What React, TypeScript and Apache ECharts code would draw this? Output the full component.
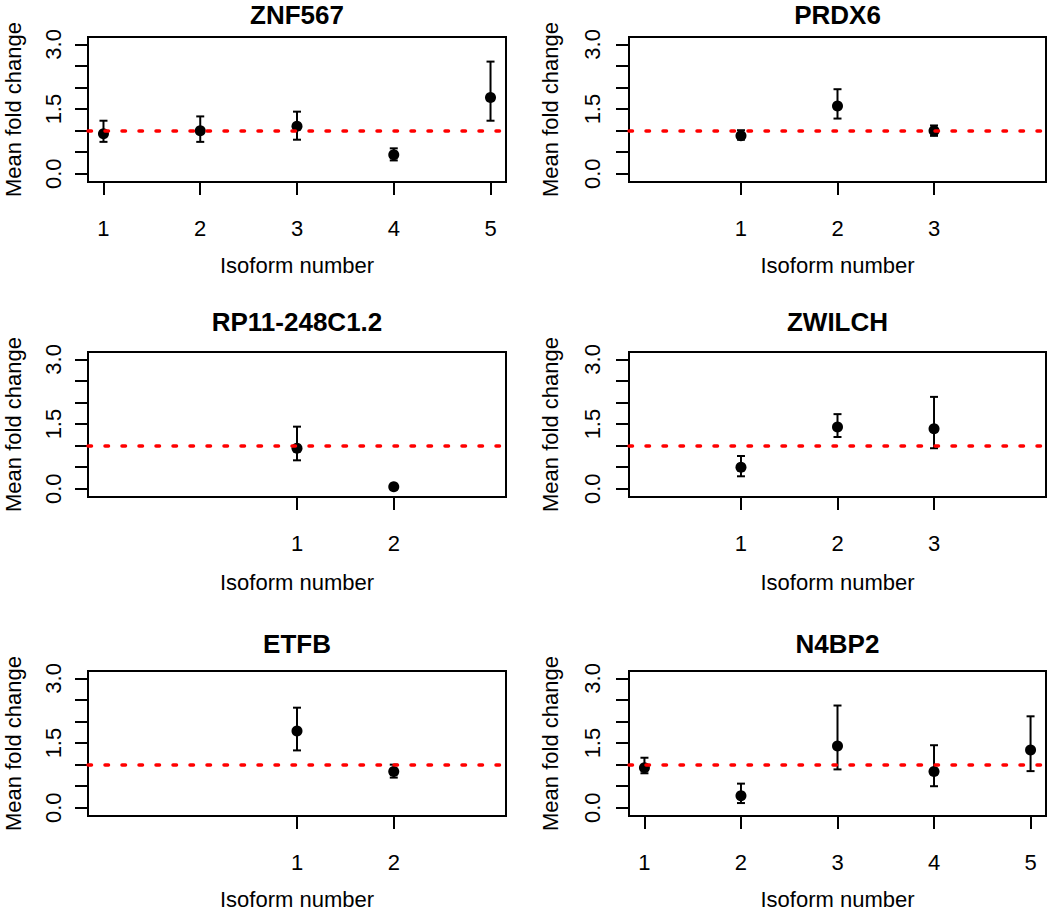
import React, { useEffect, useRef } from "react";
import * as echarts from "echarts";

// ---- Data ----
const geneNames = ["ZNF567", "PRDX6", "RP11-248C1.2", "ZWILCH", "ETFB", "N4BP2"];

const znf567Isoforms = [1, 2, 3, 4, 5];
const znf567Mean = [0.93, 1.0, 1.1, 0.44, 1.77];
const znf567Lower = [0.74, 0.74, 0.79, 0.31, 1.23];
const znf567Upper = [1.23, 1.33, 1.44, 0.59, 2.6];

const prdx6Isoforms = [1, 2, 3];
const prdx6Mean = [0.88, 1.57, 1.0];
const prdx6Lower = [0.79, 1.28, 0.88];
const prdx6Upper = [1.01, 1.96, 1.12];

const rp11Isoforms = [1, 2];
const rp11Mean = [0.94, 0.05];
const rp11Lower = [0.66, 0.03];
const rp11Upper = [1.44, 0.08];

const zwilchIsoforms = [1, 2, 3];
const zwilchMean = [0.5, 1.43, 1.39];
const zwilchLower = [0.29, 1.2, 0.94];
const zwilchUpper = [0.76, 1.73, 2.13];

const etfbIsoforms = [1, 2];
const etfbMean = [1.78, 0.84];
const etfbLower = [1.33, 0.7];
const etfbUpper = [2.32, 1.0];

const n4bp2Isoforms = [1, 2, 3, 4, 5];
const n4bp2Mean = [0.93, 0.28, 1.43, 0.84, 1.34];
const n4bp2Lower = [0.8, 0.11, 0.89, 0.5, 0.85];
const n4bp2Upper = [1.16, 0.56, 2.37, 1.45, 2.12];

const yTickValues = [0, 0.5, 1, 1.5, 2, 2.5, 3];
const yLabelValues = [0, 1.5, 3];
const referenceLine = 1.0;

const yAxisTitle = "Mean fold change";
const xAxisTitle = "Isoform number";

// ---- Layout ----
const FONT = '"Liberation Sans", Arial, Helvetica, sans-serif';
const colLeft = [88, 629];
const colWidth = [418, 417];
const colNameGap = [64, 68];
const colLabelMargin = [24, 26];
const rowTop = [37, 352, 671];
const plotHeight = 145;
const titleTop = [3, 310, 632];
const xNameGap = [72, 74, 72];
const yMin = -0.19;
const yMax = 3.17;

const panels = [
  { iso: znf567Isoforms, mean: znf567Mean, lo: znf567Lower, hi: znf567Upper, xMin: 0.84, xMax: 5.16 },
  { iso: prdx6Isoforms, mean: prdx6Mean, lo: prdx6Lower, hi: prdx6Upper, xMin: -0.16, xMax: 4.16 },
  { iso: rp11Isoforms, mean: rp11Mean, lo: rp11Lower, hi: rp11Upper, xMin: -1.16, xMax: 3.16 },
  { iso: zwilchIsoforms, mean: zwilchMean, lo: zwilchLower, hi: zwilchUpper, xMin: -0.16, xMax: 4.16 },
  { iso: etfbIsoforms, mean: etfbMean, lo: etfbLower, hi: etfbUpper, xMin: -1.16, xMax: 3.16 },
  { iso: n4bp2Isoforms, mean: n4bp2Mean, lo: n4bp2Lower, hi: n4bp2Upper, xMin: 0.84, xMax: 5.16 },
];

function buildOption() {
  const grids: any[] = [];
  const xAxes: any[] = [];
  const yAxes: any[] = [];
  const titles: any[] = [];
  const series: any[] = [];

  panels.forEach((p, i) => {
    const row = Math.floor(i / 2);
    const col = i % 2;
    const left = colLeft[col];
    const width = colWidth[col];
    const top = rowTop[row];

    grids.push({
      left,
      top,
      width,
      height: plotHeight,
      show: true,
      borderColor: "#000",
      borderWidth: 2,
      backgroundColor: "transparent",
      containLabel: false,
      outerBoundsMode: "none",
    });

    titles.push({
      text: geneNames[i],
      left: left + width / 2,
      top: titleTop[row],
      textAlign: "center",
      padding: 0,
      textStyle: { fontFamily: FONT, fontSize: 26, lineHeight: 24, fontWeight: "bold", color: "#000" },
    });

    xAxes.push({
      type: "value",
      gridIndex: i,
      min: p.xMin,
      max: p.xMax,
      position: "bottom",
      name: xAxisTitle,
      nameLocation: "middle",
      nameGap: xNameGap[row],
      nameMoveOverlap: false,
      nameTextStyle: { fontFamily: FONT, fontSize: 22, color: "#000" },
      axisLine: { show: false, onZero: false },
      splitLine: { show: false },
      axisTick: {
        show: true,
        inside: false,
        length: 13,
        customValues: p.iso,
        lineStyle: { color: "#000", width: 2 },
      },
      axisLabel: {
        show: true,
        margin: 35,
        customValues: p.iso,
        fontFamily: FONT,
        fontSize: 22,
        color: "#000",
        formatter: (v: number) => String(Math.round(v)),
      },
    });

    yAxes.push({
      type: "value",
      gridIndex: i,
      min: yMin,
      max: yMax,
      position: "left",
      name: yAxisTitle,
      nameLocation: "middle",
      nameRotate: 90,
      nameGap: colNameGap[col],
      nameMoveOverlap: false,
      nameTextStyle: { fontFamily: FONT, fontSize: 22, color: "#000" },
      axisLine: { show: false, onZero: false },
      splitLine: { show: false },
      axisTick: {
        show: true,
        inside: false,
        length: 13,
        customValues: yTickValues,
        lineStyle: { color: "#000", width: 2 },
      },
      axisLabel: {
        show: true,
        rotate: 90,
        margin: colLabelMargin[col],
        customValues: yLabelValues,
        fontFamily: FONT,
        fontSize: 22,
        color: "#000",
        formatter: (v: number) => v.toFixed(1),
      },
    });

    series.push({
      type: "custom",
      name: geneNames[i] + " error",
      xAxisIndex: i,
      yAxisIndex: i,
      z: 3,
      silent: true,
      encode: { x: 0, y: [1, 2] },
      data: p.iso.map((x, k) => [x, p.lo[k], p.hi[k]]),
      renderItem: (params: any, api: any) => {
        const x = api.value(0);
        const lo = api.value(1);
        const hi = api.value(2);
        const pt = api.coord([x, hi]);
        const pb = api.coord([x, lo]);
        const w = 4;
        const style = { stroke: "#000", lineWidth: 2, fill: null };
        return {
          type: "group",
          children: [
            { type: "line", shape: { x1: pt[0], y1: pt[1], x2: pb[0], y2: pb[1] }, style },
            { type: "line", shape: { x1: pt[0] - w, y1: pt[1], x2: pt[0] + w, y2: pt[1] }, style },
            { type: "line", shape: { x1: pb[0] - w, y1: pb[1], x2: pb[0] + w, y2: pb[1] }, style },
          ],
        };
      },
    });

    series.push({
      type: "scatter",
      name: geneNames[i],
      xAxisIndex: i,
      yAxisIndex: i,
      z: 4,
      symbol: "circle",
      symbolSize: 11,
      itemStyle: { color: "#000", opacity: 1 },
      data: p.iso.map((x, k) => [x, p.mean[k]]),
      markLine: {
        silent: true,
        z: 6,
        symbol: ["none", "none"],
        label: { show: false },
        lineStyle: { color: "#ff0000", width: 3.5, type: [3.5, 13.5], cap: "round", opacity: 1 },
        data: [{ yAxis: referenceLine }],
      },
    });
  });

  return {
    animation: false,
    backgroundColor: "#fff",
    textStyle: { fontFamily: FONT },
    title: titles,
    grid: grids,
    xAxis: xAxes,
    yAxis: yAxes,
    series,
  };
}

export default function App() {
  const ref = useRef<HTMLDivElement>(null);
  useEffect(() => {
    if (!ref.current) return;
    const chart = echarts.init(ref.current, undefined, { renderer: "svg" });
    chart.setOption(buildOption() as any);
    return () => chart.dispose();
  }, []);
  return (
    <div
      ref={ref}
      style={{ position: "absolute", left: 0, top: 0, width: 1050, height: 911, background: "#fff" }}
    />
  );
}
